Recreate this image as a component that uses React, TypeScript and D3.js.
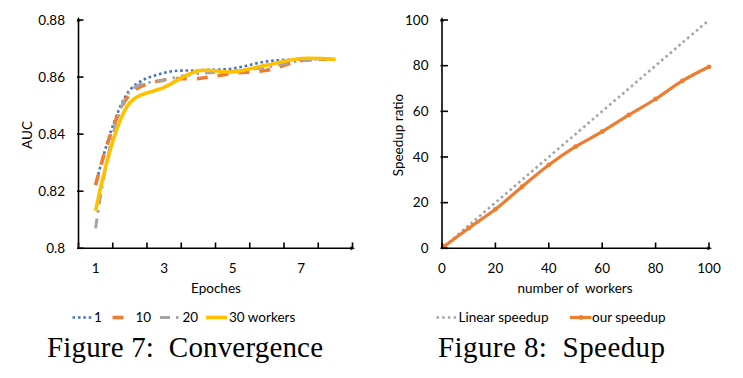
import React from "react";
import * as d3 from "d3";

const epochs = [1, 2, 3, 4, 5, 6, 7, 8];
const epochTickLabels = ["1", "", "3", "", "5", "", "7", ""];
const auc1 = [0.8222, 0.8555, 0.8615, 0.8624, 0.8630, 0.8655, 0.8662, 0.8662];
const auc10 = [0.8222, 0.8540, 0.8590, 0.8595, 0.8613, 0.8624, 0.8658, 0.8662];
const auc20 = [0.8070, 0.8550, 0.8590, 0.8612, 0.8620, 0.8635, 0.8657, 0.8662];
const auc30 = [0.8132, 0.8510, 0.8564, 0.8622, 0.8618, 0.8642, 0.8665, 0.8662];
const aucTicks = [0.8, 0.82, 0.84, 0.86, 0.88];
const aucTickLabels = ["0.8", "0.82", "0.84", "0.86", "0.88"];
const convLegend = ["1", "10", "20", "30 workers"];

const workers = [1, 10, 20, 30, 40, 50, 60, 70, 80, 90, 100];
const linearSpeedup = [1, 10, 20, 30, 40, 50, 60, 70, 80, 90, 100];
const ourSpeedup = [1, 8.8, 17.1, 27.0, 36.5, 44.5, 51.1, 58.4, 65.4, 73.3, 79.5];
const speedTicks = [0, 20, 40, 60, 80, 100];
const speedLegend = ["Linear speedup", "our speedup"];

const FONT = "Lato, 'Open Sans', sans-serif";
const SERIF = "'Liberation Serif', 'DejaVu Serif', serif";

const seriesStyles = [
  { color: "#4472C4", width: 2.6, dash: "2.6,2.8" },
  { color: "#ED7D31", width: 3.6, dash: "11,10" },
  { color: "#A5A5A5", width: 3.0, dash: "10,6,2.5,6" },
  { color: "#FFC000", width: 3.6, dash: "" },
];

export default function App() {
  // Left chart
  const xL = d3.scaleBand<number>().domain(epochs).range([78.5, 352.5]).padding(0);
  const yL = d3.scaleLinear().domain([0.8, 0.88]).range([248.3, 20]);
  const cx = (e: number) => (xL(e) as number) + xL.bandwidth() / 2;
  const lineL = d3
    .line<[number, number]>()
    .x((d) => cx(d[0]))
    .y((d) => yL(d[1]))
    .curve(d3.curveCatmullRom.alpha(0.5));
  const seriesL = [auc1, auc10, auc20, auc30];

  // Right chart
  const xR = d3.scaleLinear().domain([0, 100]).range([442, 709]);
  const yR = d3.scaleLinear().domain([0, 100]).range([248.3, 20]);
  const lineR = d3
    .line<[number, number]>()
    .x((d) => xR(d[0]))
    .y((d) => yR(d[1]))
    .curve(d3.curveCatmullRom.alpha(0.5));

  const boundaries = epochs.map((e) => xL(e) as number).concat([352.5]);

  const legendXL = [
    { lx: 72.5, tx: 94 },
    { lx: 112.5, tx: 135.5 },
    { lx: 160, tx: 182.5 },
    { lx: 206, tx: 229 },
  ];

  return (
    <svg
      width={743}
      height={378}
      style={{ position: "absolute", left: 0, top: 0, background: "#fff" }}
    >
      <rect x={0} y={0} width={743} height={378} fill="#fff" />
      {/* ---------- Left chart ---------- */}
      <g fontFamily={FONT} fontSize={13.5} fill="#000">
        {seriesL.map((s, i) => (
          <path
            key={i}
            d={lineL(epochs.map((e, j) => [e, s[j]] as [number, number])) || ""}
            fill="none"
            stroke={seriesStyles[i].color}
            strokeWidth={seriesStyles[i].width}
            strokeDasharray={seriesStyles[i].dash || undefined}
          />
        ))}
        {/* axes */}
        <line x1={78.5} x2={78.5} y1={248.3} y2={19} stroke="#000" strokeWidth={1.6} />
        <path d="M78.5,17 L76.5,21.5 L80.5,21.5 Z" fill="#000" />
        <line x1={78.5} x2={353} y1={248.3} y2={248.3} stroke="#000" strokeWidth={1.6} />
        <path d="M355,248.3 L350.5,246.3 L350.5,250.3 Z" fill="#000" />
        {aucTicks.map((t, i) => (
          <g key={i}>
            <line x1={77} x2={83.5} y1={yL(t)} y2={yL(t)} stroke="#000" strokeWidth={1.6} />
            <text x={65} y={yL(t)} dy="0.35em" textAnchor="end">
              {aucTickLabels[i]}
            </text>
          </g>
        ))}
        {boundaries.map((b, i) => (
          <line key={i} x1={b} x2={b} y1={248.3} y2={242.5} stroke="#000" strokeWidth={1.6} />
        ))}
        {epochs.map((e, i) => (
          <text key={i} x={cx(e)} y={272.5} textAnchor="middle">
            {epochTickLabels[i]}
          </text>
        ))}
        <text x={216} y={293} textAnchor="middle">Epoches</text>
        <text transform="translate(32,135) rotate(-90)" textAnchor="middle">AUC</text>
        {/* legend */}
        {convLegend.map((name, i) => {
          const st = seriesStyles[i];
          const p = legendXL[i];
          return (
            <g key={i}>
              <line
                x1={p.lx}
                x2={p.lx + 21}
                y1={317.5}
                y2={317.5}
                stroke={st.color}
                strokeWidth={st.width}
                strokeDasharray={st.dash || undefined}
              />
              <text x={p.tx} y={322}>{name}</text>
            </g>
          );
        })}
      </g>
      <text x={185} y={357} textAnchor="middle" fontFamily={SERIF} fontSize={29} textLength={276} lengthAdjust="spacing" style={{ whiteSpace: "pre" }}>
        {"Figure 7:  Convergence"}
      </text>

      {/* ---------- Right chart ---------- */}
      <g fontFamily={FONT} fontSize={13.5} fill="#000">
        <path
          d={lineR(workers.map((w, j) => [w, linearSpeedup[j]] as [number, number])) || ""}
          fill="none"
          stroke="#A5A5A5"
          strokeWidth={2.6}
          strokeDasharray="2.6,3.1"
        />
        <path
          d={lineR(workers.map((w, j) => [w, ourSpeedup[j]] as [number, number])) || ""}
          fill="none"
          stroke="#ED7D31"
          strokeWidth={3.2}
        />
        {workers.map((w, j) => (
          <circle key={j} cx={xR(w)} cy={yR(ourSpeedup[j])} r={2.4} fill="#ED7D31" />
        ))}
        {/* axes */}
        <line x1={442} x2={442} y1={248.3} y2={19} stroke="#000" strokeWidth={1.6} />
        <path d="M442,17 L440,21.5 L444,21.5 Z" fill="#000" />
        <line x1={442} x2={710} y1={248.3} y2={248.3} stroke="#000" strokeWidth={1.6} />
        <path d="M712,248.3 L707.5,246.3 L707.5,250.3 Z" fill="#000" />
        {speedTicks.map((t, i) => (
          <g key={i}>
            <line x1={440.5} x2={448} y1={yR(t)} y2={yR(t)} stroke="#000" strokeWidth={1.6} />
            <text x={428.5} y={yR(t)} dy="0.35em" textAnchor="end">{t}</text>
            <line x1={xR(t)} x2={xR(t)} y1={248.3} y2={242.5} stroke="#000" strokeWidth={1.6} />
            <text x={xR(t)} y={272.5} textAnchor="middle">{t}</text>
          </g>
        ))}
        <text x={575} y={293} textAnchor="middle" style={{ whiteSpace: "pre" }}>{"number of  workers"}</text>
        <text transform="translate(403,135) rotate(-90)" textAnchor="middle">Speedup ratio</text>
        {/* legend */}
        <line x1={436.5} x2={457.5} y1={317.5} y2={317.5} stroke="#A5A5A5" strokeWidth={2.6} strokeDasharray="2.6,3.1" />
        <text x={458.5} y={322}>{speedLegend[0]}</text>
        <line x1={570} x2={591.5} y1={317.5} y2={317.5} stroke="#ED7D31" strokeWidth={3.2} />
        <circle cx={581} cy={317.5} r={2.4} fill="#ED7D31" />
        <text x={592} y={322}>{speedLegend[1]}</text>
      </g>
      <text x={551.5} y={357} textAnchor="middle" fontFamily={SERIF} fontSize={29} textLength={227} lengthAdjust="spacing" style={{ whiteSpace: "pre" }}>
        {"Figure 8:  Speedup"}
      </text>
    </svg>
  );
}
